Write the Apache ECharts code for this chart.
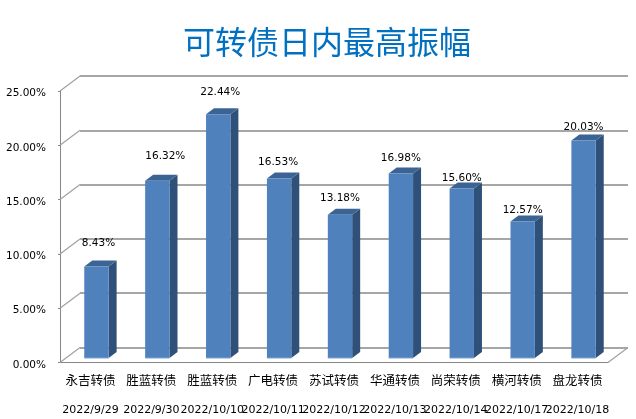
<!DOCTYPE html>
<html><head><meta charset="utf-8"><style>html,body{margin:0;padding:0;background:#fff}#c{width:636px;height:419px}</style>
<script src="https://cdn.jsdelivr.net/npm/echarts@6/dist/echarts.min.js"></script></head><body><div id="c"></div>
<script>
const names = ['永吉转债','胜蓝转债','胜蓝转债','广电转债','苏试转债','华通转债','尚荣转债','横河转债','盘龙转债'];
const dates = ['2022/9/29','2022/9/30','2022/10/10','2022/10/11','2022/10/12','2022/10/13','2022/10/14','2022/10/17','2022/10/18'];
const values = [8.43,16.32,22.44,16.53,13.18,16.98,15.60,12.57,20.03];
const ticks = [0,5,10,15,20,25];
// manual label placement of the original chart, in px from the bar's centre and top
const labelDx = [2,8,2,-1,0,0,0,0,0];
const labelDy = [-23,-24,-22.5,-16,-17,-15.5,-10.5,-11,-13];

const chart = echarts.init(document.getElementById('c'));
const catAxis = {type:'category',data:names.map((n,i)=>n+'\n'+dates[i])};
const valAxis = {type:'value',min:0,max:25,interval:5};
const hidden = {show:false};
const sans = 'DejaVu Sans';
chart.setOption({
  animation:false,
  backgroundColor:'#fff',
  title:{text:'可转债日内最高振幅',left:322,top:21,textAlign:'center',
    textStyle:{color:'#0070c0',fontSize:32,fontWeight:'normal',fontFamily:'Noto Sans CJK SC'}},
  grid:[
    {left:60,width:548,top:91,height:271.5},   // front plane: axes
    {left:80,width:548,top:76,height:271.5},   // back wall
    {left:66,width:548,top:86.5,height:271.5}  // bar plane
  ],
  xAxis:[
    {...catAxis,gridIndex:0,
      axisLine:{lineStyle:{color:'#868686',width:1}},
      axisTick:{length:57,lineStyle:{color:'#868686'}},
      axisLabel:{margin:0,interval:0,formatter:(v)=>{const p=v.split('\n');return '{n|'+p[0]+'}\n{d|'+p[1]+'}';},
        rich:{n:{fontFamily:'Noto Sans CJK SC',fontSize:12.5,lineHeight:36,color:'#000'},
              d:{fontFamily:sans,fontSize:11,lineHeight:24,color:'#000'}}}},
    {...catAxis,gridIndex:1,show:false},
    {...catAxis,gridIndex:2,show:false}
  ],
  yAxis:[
    {...valAxis,gridIndex:0,
      axisLine:{show:true,lineStyle:{color:'#868686'}},
      axisTick:{show:true,length:2,lineStyle:{color:'#868686'}},
      splitLine:hidden,
      axisLabel:{margin:14,formatter:(v)=>'{a|'+v.toFixed(2)+'%}',
        rich:{a:{fontFamily:sans,fontSize:10.5,color:'#000',padding:[5,0,0,0]}}}},
    {...valAxis,gridIndex:1,axisLine:hidden,axisTick:hidden,axisLabel:hidden,
      splitLine:{show:true,lineStyle:{color:'#a6a6a6',width:2}}},
    {...valAxis,gridIndex:2,show:false}
  ],
  series:[
    {type:'custom',xAxisIndex:0,yAxisIndex:0,coordinateSystem:'cartesian2d',silent:true,z:2,
      data:ticks.map(t=>[0,t]),
      renderItem:(p,api)=>{
        const c=api.coord([0,api.value(1)]);
        const x=60,y=c[1];
        return {type:'line',shape:{x1:x,y1:y,x2:x+20,y2:y-15},style:{stroke:'#a0a0a0',lineWidth:1.2}};
      }},
    {type:'custom',xAxisIndex:0,yAxisIndex:0,silent:true,z:2,data:[[0,0]],
      renderItem:(p,api)=>{
        const c=api.coord([0,0]);
        return {type:'line',shape:{x1:608,y1:c[1],x2:628,y2:c[1]-15},style:{stroke:'#a0a0a0',lineWidth:1.2}};
      }},
    {type:'custom',xAxisIndex:2,yAxisIndex:2,silent:true,z:3,
      data:values.map((v,i)=>[i,v]),
      renderItem:(p,api)=>{
        const i=api.value(0),v=api.value(1);
        const a=api.coord([i,v]),b=api.coord([i,0]);
        const w=api.size([1,0])[0]*0.4,l=a[0]-w/2,r=a[0]+w/2,d=8,h=6;
        return {type:'group',children:[
          {type:'polygon',shape:{points:[[r,a[1]],[r+d,a[1]-h],[r+d,b[1]-h],[r,b[1]]]},style:{fill:'#2f5078'}},
          {type:'polygon',shape:{points:[[l,a[1]],[l+d,a[1]-h],[r+d,a[1]-h],[r,a[1]]]},style:{fill:'#3b6494'}},
          {type:'rect',shape:{x:l,y:a[1],width:w,height:b[1]-a[1]},style:{fill:'#4f81bd'}},
          {type:'line',shape:{x1:l,y1:b[1],x2:r,y2:b[1]},style:{stroke:'#7fa6d6',lineWidth:1}},
          {type:'text',x:a[0]+labelDx[i],y:a[1]+labelDy[i],
            style:{text:v.toFixed(2)+'%',fontFamily:sans,fontSize:10.5,fill:'#000',align:'center',verticalAlign:'middle'}}
        ]};
      }}
  ]
});
</script></body></html>
